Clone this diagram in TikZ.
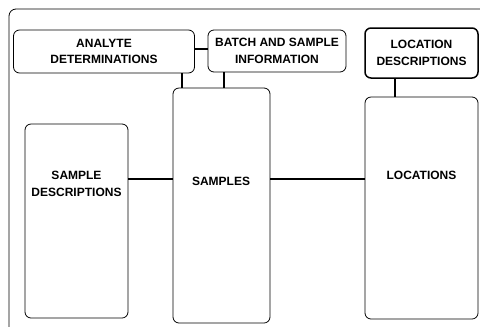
\documentclass[tikz,border=0pt]{standalone}
\usepackage{fontspec}
\setmainfont{Liberation Sans}
\begin{document}
\begin{tikzpicture}[x=1bp,y=-1bp,
  box/.style={draw, line width=0.8bp, rounded corners=6bp, inner sep=0pt, font=\fontsize{12bp}{16.5bp}\selectfont\bfseries, align=center},
  thickbox/.style={box, line width=1.5bp},
  link/.style={draw, line width=1.2bp}]
\useasboundingbox (0,0) rectangle (480,326);
% outer frame (cropped)
\draw[line width=0.8bp, rounded corners=7bp] (9,330) -- (9,9) -- (484,9);
% boxes
\node[box, minimum width=181bp, minimum height=43bp] (ad) at (104,51.5) {ANALYTE\\DETERMINATIONS};
\node[box, minimum width=138bp, minimum height=42bp] (bs) at (277,51) {BATCH AND SAMPLE\\INFORMATION};
\node[thickbox, minimum width=113bp, minimum height=50bp] (ld) at (421.5,53) {LOCATION\\DESCRIPTIONS};
\draw[box] (173,88) rectangle (270,323);
\node[draw=none, font=\fontsize{12bp}{16.5bp}\selectfont\bfseries] (s) at (221,181) {SAMPLES};
\coordinate (sN) at (221,88);
\draw[box] (25,124) rectangle (128,318);
\node[font=\fontsize{12bp}{16.5bp}\selectfont\bfseries, align=center] (sd) at (76.5,184) {SAMPLE\\DESCRIPTIONS};
\draw[box] (365,97) rectangle (478,319);
\node[font=\fontsize{12bp}{16.5bp}\selectfont\bfseries] (l) at (421.5,175) {LOCATIONS};
% connector anchor coordinates
\coordinate (sdE) at (128,179);
\coordinate (sW) at (173,179);
\coordinate (sE) at (270,179);
\coordinate (lW) at (365,179);
\coordinate (sT1) at (182,88);
\coordinate (sT2) at (224,88);
\coordinate (lT) at (395,97);
% connectors
\draw[link] (ad.east |- 0,49) -- (bs.west |- 0,49);
\draw[link] (ad.south -| sT1) -- (sT1);
\draw[link] (bs.south -| sT2) -- (sT2);
\draw[link] (ld.south -| lT) -- (lT);
\draw[link] (sdE) -- (sW);
\draw[link] (sE) -- (lW);
\end{tikzpicture}
\end{document}
